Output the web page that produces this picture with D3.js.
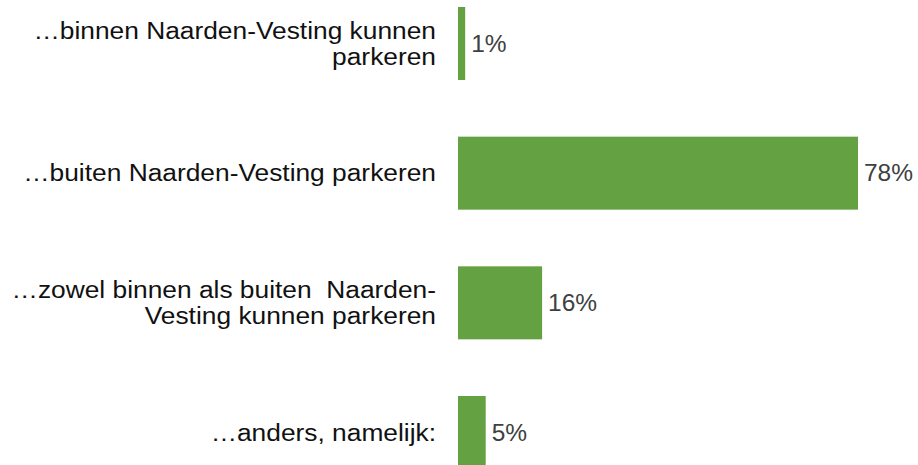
<!DOCTYPE html>
<html>
<head>
    <meta charset="utf-8" />
    <title>Parkeren Naarden-Vesting</title>
    <style>
        body { margin: 0; background: #ffffff; }
        .label { font: 23px 'Liberation Sans', Arial, sans-serif; fill: #111111; white-space: pre; }
        .value { font: 23px 'Liberation Sans', Arial, sans-serif; fill: #404040; }
        .bar { fill: #63a142; }
    </style>
    <script src="https://cdn.jsdelivr.net/npm/d3@7"></script>
</head>
<body>
    <svg width="918" height="465"></svg>

    <script>
        // categories (as wrapped lines) and values
        var categories = [
            ['\u2026binnen Naarden-Vesting kunnen', 'parkeren'],
            ['\u2026buiten Naarden-Vesting parkeren'],
            ['\u2026zowel binnen als buiten  Naarden-', 'Vesting kunnen parkeren'],
            ['\u2026anders, namelijk:']
        ];
        var values = [1.4, 78, 16.4, 5.4];
        var valueLabels = ['1%', '78%', '16%', '5%'];

        var svg = d3.select('svg'),
            labelScale = 1.145,
            valueScale = 1.065,
            lineHeight = 26;

        var y = d3.scaleBand()
            .domain(d3.range(categories.length))
            .range([7, 469])
            .paddingInner(0.437)
            .paddingOuter(0);

        var x = d3.scaleLinear()
            .domain([0, 78])
            .range([458, 858]);

        svg.selectAll('.bar')
            .data(values)
            .enter().append('rect')
                .attr('class', 'bar')
                .attr('x', x(0))
                .attr('y', function(d, i) { return y(i); })
                .attr('width', function(d) { return x(d) - x(0); })
                .attr('height', y.bandwidth());

        svg.selectAll('.value')
            .data(values)
            .enter().append('text')
                .attr('class', 'value')
                .attr('transform', function(d, i) {
                    return 'translate(' + (x(d) + 6) + ',' + (y(i) + y.bandwidth() / 2) + ') scale(' + valueScale + ',1)';
                })
                .attr('dy', '0.35em')
                .text(function(d, i) { return valueLabels[i]; });

        var labels = svg.selectAll('.label')
            .data(categories)
            .enter().append('text')
                .attr('class', 'label')
                .attr('text-anchor', 'end')
                .attr('transform', function(d, i) {
                    var mid = y(i) + y.bandwidth() / 2 - (d.length - 1) * lineHeight / 2;
                    return 'translate(436,' + mid + ') scale(' + labelScale + ',1)';
                });

        labels.selectAll('tspan')
            .data(function(d) { return d; })
            .enter().append('tspan')
                .attr('x', 0)
                .attr('y', function(d, j) { return j * lineHeight; })
                .attr('dy', '0.35em')
                .text(function(d) { return d; });
    </script>
</body>
</html>
